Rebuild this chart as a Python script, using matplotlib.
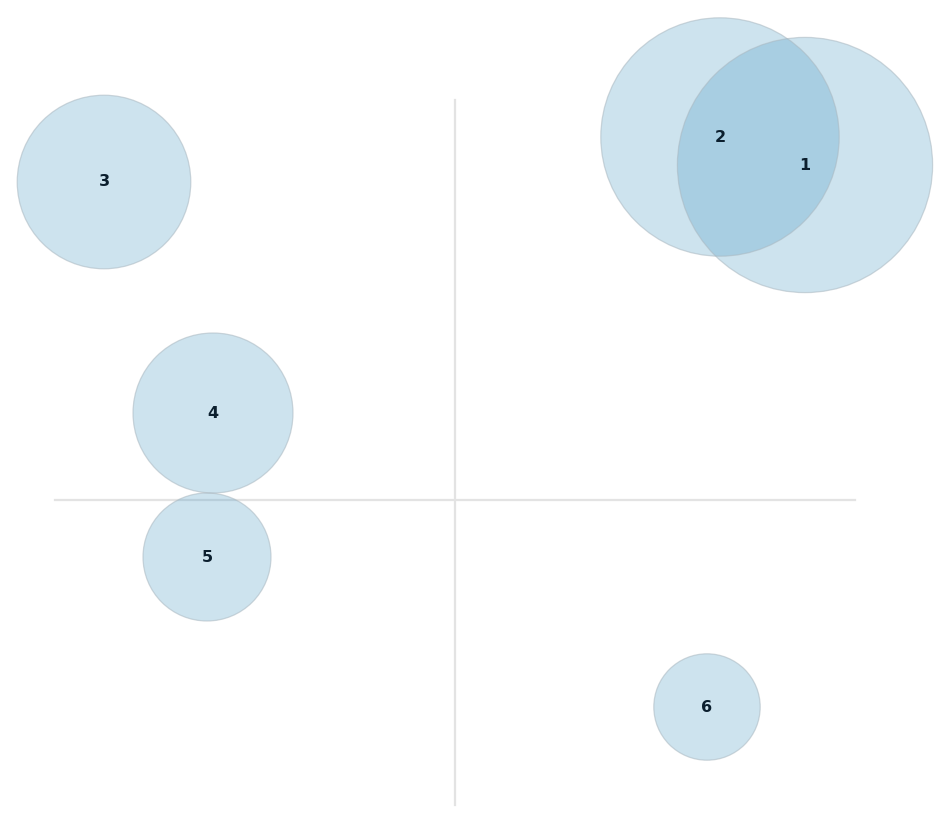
import matplotlib.pyplot as plt
from matplotlib.patches import Circle

# bubble data (quadrant centre at 0,0)
labels = ["1", "2", "3", "4", "5", "6"]
xs = [87.5, 66.25, -87.75, -60.5, -62.0, 63.0]
ys = [83.75, 90.75, 79.5, 21.75, -14.25, -51.75]
radii = [31.9, 29.8, 21.7, 20.0, 16.0, 13.3]

fig = plt.figure(figsize=(9.52, 8.19), dpi=100)
ax = fig.add_axes([0, 0, 1, 1])
ax.set_xlim(-113.75, 124.25)
ax.set_ylim(-79.75, 125)
ax.set_aspect("equal")
ax.axis("off")

# quadrant lines
ax.plot([-100, 100], [0, 0], color="#e3e3e3", lw=1.6, zorder=0)
ax.plot([0, 0], [-76.25, 100], color="#e3e3e3", lw=1.6, zorder=0)

for lab, x, y, r in zip(labels, xs, ys, radii):
    ax.add_patch(Circle((x, y), r, facecolor="#3f93c1", alpha=0.26,
                        edgecolor="none", zorder=1))
    ax.add_patch(Circle((x, y), r, facecolor="none", edgecolor="#aab8c0",
                        lw=0.9, alpha=0.55, zorder=2))
    ax.text(x, y, lab, ha="center", va="center", fontsize=11.5,
            fontweight="bold", color="#0b1f2e", zorder=3)

fig.savefig("out.png", dpi=100)
